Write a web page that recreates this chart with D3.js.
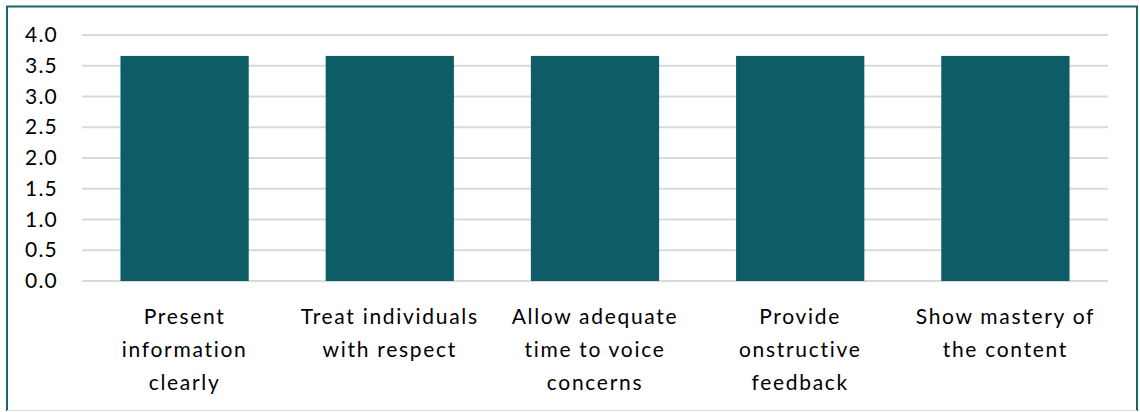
<!DOCTYPE html>
<html>
<head>
<meta charset="utf-8">
<script src="https://cdn.jsdelivr.net/npm/d3@7"></script>
<style>
  html, body { margin: 0; padding: 0; background: #fff; }
  svg { display: block; }
  text { font-family: Lato, "Open Sans", sans-serif; fill: #000; }
</style>
</head>
<body>
<svg id="chart" width="1140" height="412"></svg>
<script>
// Mean ratings per item
const categories = [
  ["Present", "information", "clearly"],
  ["Treat individuals", "with respect"],
  ["Allow adequate", "time to voice", "concerns"],
  ["Provide", "onstructive", "feedback"],
  ["Show mastery of", "the content"]
];
const values = [3.66, 3.66, 3.66, 3.66, 3.66];
const yTicks = [0, 0.5, 1.0, 1.5, 2.0, 2.5, 3.0, 3.5, 4.0];

const svg = d3.select("#chart");
const W = 1140, H = 412;

// frame
svg.append("rect").attr("x", 0).attr("y", 0).attr("width", W).attr("height", H).attr("fill", "#fff");
svg.append("path")
  .attr("d", "M7,411 L7,6.5 L1137,6.5 L1137,411")
  .attr("fill", "none").attr("stroke", "#17676e").attr("stroke-width", 2);
svg.append("line").attr("x1", 7).attr("x2", 1137).attr("y1", 410.5).attr("y2", 410.5)
  .attr("stroke", "#d5dfdf").attr("stroke-width", 1);

const plot = { left: 82, right: 1108, top: 35, bottom: 281 };

const x = d3.scaleBand()
  .domain(d3.range(categories.length))
  .range([plot.left, plot.right])
  .paddingInner(0.375)
  .paddingOuter(0.1875);

const y = d3.scaleLinear().domain([0, 4]).range([plot.bottom, plot.top]);

// gridlines
svg.append("g").selectAll("line").data(yTicks).join("line")
  .attr("x1", plot.left).attr("x2", plot.right)
  .attr("y1", d => y(d)).attr("y2", d => y(d))
  .attr("stroke", "#d9d9d9").attr("stroke-width", 2);

// y axis labels
const yAxis = d3.axisLeft(y).tickValues(yTicks).tickFormat(d3.format(".1f")).tickSize(0).tickPadding(0);
const yg = svg.append("g").attr("transform", `translate(58,0)`).call(yAxis);
yg.select(".domain").remove();
yg.selectAll("text").attr("font-size", 21).attr("letter-spacing", 1.2)
  .attr("font-family", "Lato, sans-serif").attr("fill", "#000");

// bars
svg.append("g").selectAll("rect").data(values).join("rect")
  .attr("x", (d, i) => x(i))
  .attr("width", x.bandwidth())
  .attr("y", d => y(d))
  .attr("height", d => y(0) - y(d))
  .attr("fill", "#0d5c66");

// category labels
const lab = svg.append("g").selectAll("text").data(categories).join("text")
  .attr("text-anchor", "middle")
  .attr("font-size", 21)
  .attr("letter-spacing", 1.7)
  .attr("x", (d, i) => x(i) + x.bandwidth() / 2)
  .attr("y", 324);
lab.selectAll("tspan").data(d => d).join("tspan")
  .attr("x", function() { return d3.select(this.parentNode).attr("x"); })
  .attr("dy", (d, i) => i === 0 ? 0 : 33)
  .text(d => d);
</script>
</body>
</html>
